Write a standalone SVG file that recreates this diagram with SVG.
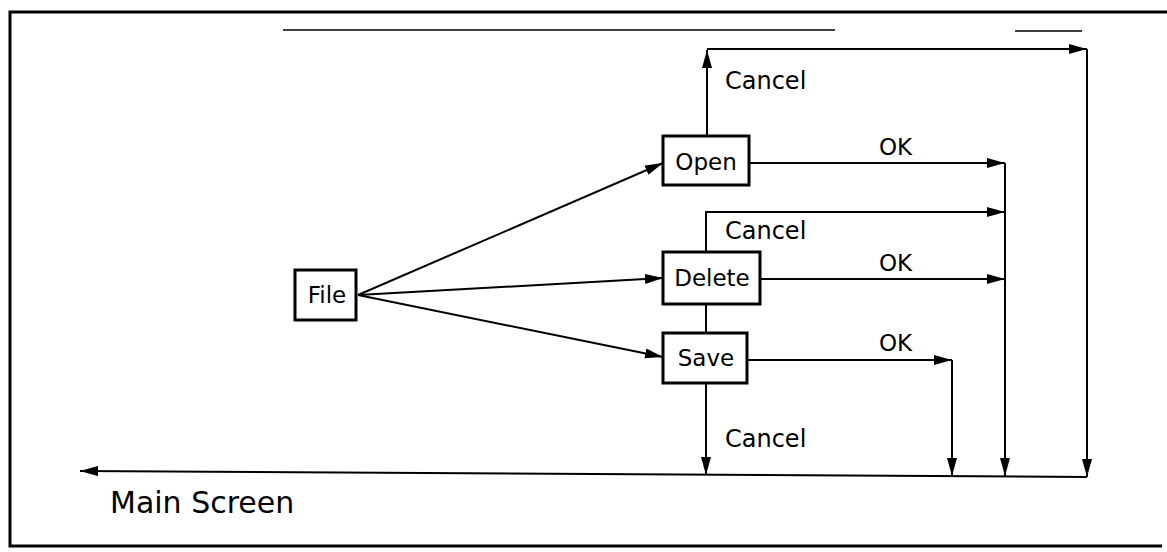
<svg xmlns="http://www.w3.org/2000/svg" width="1167" height="552" viewBox="0 0 1167 552">
<style>
.frame{fill:none;stroke:#000;stroke-width:3}
.scan{fill:none;stroke:#000;stroke-width:1.5}
.box{fill:#fff;stroke:#000;stroke-width:3}
.lbl{font-family:"DejaVu Sans",sans-serif;font-size:23px;fill:#000;text-anchor:middle}
.edge{fill:none;stroke:#000;stroke-width:2}
.cap{font-family:"DejaVu Sans",sans-serif;font-size:24px;fill:#000}
.ok{font-family:"DejaVu Sans",sans-serif;font-size:23px;fill:#000}
.main{font-family:"DejaVu Sans",sans-serif;font-size:30px;fill:#000}
</style>
<defs>
<marker id="ah" markerUnits="userSpaceOnUse" markerWidth="20" markerHeight="12" refX="18" refY="5" orient="auto">
<path d="M0,0 L18,5 L0,10 z" fill="#000"/>
</marker>
</defs>
<rect width="1167" height="552" fill="#fff"/>
<g id="frame">
<path class="frame" d="M1167,12 L10,12 L10,546 L1162,546"/>
<path class="scan" d="M283,30 L835,30 M1015,31 L1082,31"/>
</g>
<g id="connectors">
<line class="edge" x1="358" y1="295" x2="663" y2="163" marker-end="url(#ah)"/>
<line class="edge" x1="358" y1="295" x2="663" y2="278" marker-end="url(#ah)"/>
<line class="edge" x1="358" y1="295" x2="663" y2="357" marker-end="url(#ah)"/>
<line class="edge" x1="707" y1="136" x2="707" y2="50" marker-end="url(#ah)"/>
<polyline class="edge" points="707,49 1087,49" marker-end="url(#ah)"/>
<line class="edge" x1="1087" y1="49" x2="1087" y2="477" marker-end="url(#ah)"/>
<line class="edge" x1="749" y1="163" x2="1005" y2="163" marker-end="url(#ah)"/>
<line class="edge" x1="1005" y1="163" x2="1005" y2="476" marker-end="url(#ah)"/>
<polyline class="edge" points="706,252 706,212 1005,212" marker-end="url(#ah)"/>
<line class="edge" x1="760" y1="279" x2="1005" y2="279" marker-end="url(#ah)"/>
<line class="edge" x1="706" y1="304" x2="706" y2="333"/>
<line class="edge" x1="747" y1="360" x2="952" y2="360" marker-end="url(#ah)"/>
<line class="edge" x1="952" y1="360" x2="952" y2="476" marker-end="url(#ah)"/>
<line class="edge" x1="706" y1="383" x2="706" y2="475" marker-end="url(#ah)"/>
<line class="edge" x1="1087" y1="477" x2="80" y2="471" marker-end="url(#ah)"/>
<text class="cap" x="725" y="89">Cancel</text>
<text class="ok" x="879" y="155">OK</text>
<text class="cap" x="725" y="239">Cancel</text>
<text class="ok" x="879" y="271">OK</text>
<text class="ok" x="879" y="351">OK</text>
<text class="cap" x="725" y="447">Cancel</text>
<text class="main" x="110" y="513">Main Screen</text>
</g>
<g id="file">
<rect class="box" x="295" y="270" width="61" height="50"/>
<text class="lbl" x="327" y="303">File</text>
</g>
<g id="open">
<rect class="box" x="663" y="136" width="86" height="49"/>
<text class="lbl" x="706" y="170">Open</text>
</g>
<g id="delete">
<rect class="box" x="663" y="252" width="97" height="52"/>
<text class="lbl" x="712" y="286">Delete</text>
</g>
<g id="save">
<rect class="box" x="663" y="333" width="84" height="50"/>
<text class="lbl" x="706" y="366">Save</text>
</g>
</svg>
